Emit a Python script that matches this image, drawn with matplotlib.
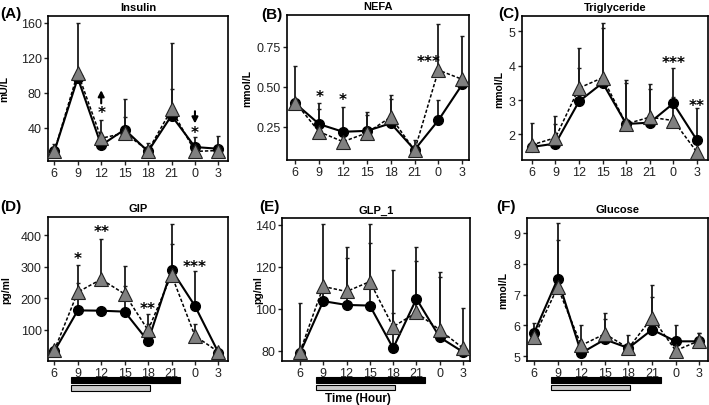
import numpy as np
import matplotlib
matplotlib.use("Agg")
import matplotlib.pyplot as plt
import matplotlib.patches as patches
import matplotlib.transforms as mtransforms

plt.rcParams['font.family'] = ['Liberation Sans', 'DejaVu Sans']

# x categories (clock hour)
hours = ["6", "9", "12", "15", "18", "21", "0", "3"]

# solid line / black circles and dashed line / grey triangles, with upper SD
insulin_circ = [13, 97, 20, 38, 13, 54, 18, 16]
insulin_circ_sd = [9, 63, 0, 35, 10, 83, 12, 15]
insulin_tri = [13, 103, 28, 34, 14, 61, 13, 14]
insulin_tri_sd = [0, 0, 21, 18, 0, 24, 0, 0]

nefa_circ = [0.395, 0.265, 0.217, 0.223, 0.27, 0.104, 0.29, 0.515]
nefa_circ_sd = [0.235, 0.135, 0.158, 0.117, 0.18, 0.06, 0.125, 0.305]
nefa_tri = [0.40, 0.217, 0.155, 0.21, 0.31, 0.10, 0.604, 0.546]
nefa_tri_sd = [0, 0.143, 0, 0.11, 0.11, 0, 0.292, 0]

tg_circ = [1.63, 1.73, 2.96, 3.5, 2.3, 2.34, 2.9, 1.83]
tg_circ_sd = [0.71, 0.80, 0.96, 1.59, 1.28, 0.97, 1.02, 0.95]
tg_tri = [1.69, 1.9, 3.35, 3.65, 2.3, 2.5, 2.4, 1.48]
tg_tri_sd = [0, 0.4, 1.17, 1.61, 1.2, 0.98, 0.7, 0]

gip_circ = [31, 161, 160, 157, 63, 290, 175, 27]
gip_circ_sd = [0, 86, 0, 80, 54, 147, 110, 0]
gip_tri = [34, 219, 260, 213, 98, 274, 80, 29]
gip_tri_sd = [0, 86, 128, 89, 50, 97, 37, 0]

glp_circ = [78.9, 103.7, 101.9, 101.6, 81.3, 104.8, 86.5, 79.5]
glp_circ_sd = [23.9, 36.8, 22.4, 29.7, 37.4, 24.5, 31.2, 20.9]
glp_tri = [79.5, 110.7, 108.3, 113, 91.5, 98.3, 90, 81.3]
glp_tri_sd = [0, 0, 21, 27.5, 6.5, 24.4, 25, 0]

glu_circ = [5.75, 7.51, 5.1, 5.54, 5.26, 5.86, 5.48, 5.48]
glu_circ_sd = [0.33, 1.81, 0.9, 0.87, 0.41, 1.06, 0.52, 0.27]
glu_tri = [5.62, 7.24, 5.35, 5.72, 5.26, 6.25, 5.18, 5.5]
glu_tri_sd = [0, 1.54, 0, 0.48, 0, 1.07, 0, 0.25]

# significance marks: (x index, y, text)
nefa_stars = [(1, 0.44, "*"), (2, 0.42, "*"), (5.6, 0.66, "***")]
tg_stars = [(6, 4.08, "***"), (7, 2.83, "**")]
gip_stars = [(1, 327, "*"), (2, 411, "**"), (4, 167, "**"), (6, 299, "***")]
insulin_stars = [(2, 58, "*"), (6, 35, "*")]

W, H = 709, 406
fig = plt.figure(figsize=(W / 100, H / 100), dpi=100)


def box(l, r, t, b):
    return [l / W, (H - b) / H, (r - l) / W, (b - t) / H]


def panel(rect, circ, csd, tri, tsd, title, letter, ylabel, ylim, yticks,
          xlim, letter_xy, ylab_x, ytl=None):
    ax = fig.add_axes(box(*rect))
    x = np.arange(len(hours))
    c = np.array(circ, float)
    t = np.array(tri, float)
    ax.errorbar(x, c, yerr=[np.zeros_like(c), np.array(csd, float)], fmt='none',
                ecolor='#1a1a1a', elinewidth=1.3, capsize=1.5, capthick=1.0, zorder=2)
    ax.errorbar(x, t, yerr=[np.zeros_like(t), np.array(tsd, float)], fmt='none',
                ecolor='#1a1a1a', elinewidth=1.3, capsize=1.5, capthick=1.0, zorder=2)
    ax.plot(x, t, linestyle=(0, (2.2, 1.3)), color='black', lw=1.1, zorder=3)
    ax.plot(x, c, '-', color='black', lw=1.5, zorder=3)
    ax.plot(x, c, 'o', color='black', ms=7, zorder=4)
    ax.plot(x, t, '^', mfc='#808080', mec='#222222', mew=0.8, ms=10, zorder=5)
    ax.set_xlim(*xlim)
    ax.set_ylim(*ylim)
    ax.set_xticks(x)
    ax.set_xticklabels(hours)
    ax.set_yticks(yticks)
    if ytl is not None:
        ax.set_yticklabels(ytl)
    ax.tick_params(axis='both', labelsize=9, length=3, width=1, pad=1.5,
                   colors='#222222')
    for s in ax.spines.values():
        s.set_linewidth(1.2)
    ax.set_title(title, fontsize=8, fontweight='bold', pad=4)
    ax.set_ylabel(ylabel, fontsize=7.5, fontweight='bold')
    ax.yaxis.set_label_coords((ylab_x - rect[0]) / (rect[1] - rect[0]), 0.5)
    fig.text(letter_xy[0] / W, 1 - letter_xy[1] / H, letter, fontsize=11,
             fontweight='bold', ha='left', va='center')
    return ax


def stars(ax, marks):
    for sx, sy, s in marks:
        ax.text(sx, sy, s, ha='center', va='center', fontsize=11, fontweight='bold',
                family='DejaVu Sans', zorder=6)


def day_bars(ax):
    tr = mtransforms.blended_transform_factory(ax.transData, ax.transAxes)
    ax.add_patch(patches.Rectangle((0.7, -0.155), 4.67, 0.042, transform=tr,
                                   facecolor='black', edgecolor='black', lw=0.8,
                                   clip_on=False))
    ax.add_patch(patches.Rectangle((0.7, -0.205), 3.37, 0.035, transform=tr,
                                   facecolor='#cccccc', edgecolor='black', lw=0.8,
                                   clip_on=False))


def arrow(ax, x, y0, y1):
    ax.annotate("", xy=(x, y1), xytext=(x, y0),
                arrowprops=dict(arrowstyle='-|>,head_length=0.35,head_width=0.18',
                                color='black', lw=1.5, shrinkA=0, shrinkB=0))


# (A) Insulin
axA = panel((48, 228, 17, 162), insulin_circ, insulin_circ_sd, insulin_tri, insulin_tri_sd,
            "Insulin", "(A)", "mU/L", (2, 168), [40, 80, 120, 160], (-0.27, 7.41),
            (0, 14), 9)
stars(axA, insulin_stars)
arrow(axA, 2, 68, 83)
arrow(axA, 6, 59, 45)

# (B) NEFA
axB = panel((287, 469, 16, 161), nefa_circ, nefa_circ_sd, nefa_tri, nefa_tri_sd,
            "NEFA", "(B)", "mmol/L", (0.04, 0.95), [0.25, 0.50, 0.75], (-0.35, 7.28),
            (261, 15), 252, ytl=["0.25", "0.50", "0.75"])
stars(axB, nefa_stars)

# (C) Triglyceride
axC = panel((522, 708, 17, 161), tg_circ, tg_circ_sd, tg_tri, tg_tri_sd,
            "Triglyceride", "(C)", "mmol/L", (1.25, 5.45), [2, 3, 4, 5], (-0.42, 7.47),
            (498, 14), 504)
stars(axC, tg_stars)

# (D) GIP
axD = panel((48, 228, 218, 362), gip_circ, gip_circ_sd, gip_tri, gip_tri_sd,
            "GIP", "(D)", "pg/ml", (0, 458), [100, 200, 300, 400], (-0.27, 7.41),
            (0, 207), 11)
stars(axD, gip_stars)
day_bars(axD)

# (E) GLP_1
axE = panel((282, 470, 219, 362), glp_circ, glp_circ_sd, glp_tri, glp_tri_sd,
            "GLP_1", "(E)", "pg/ml", (75.2, 143.3), [80, 100, 120, 140], (-0.77, 7.3),
            (259, 207), 263)
day_bars(axE)
fig.text(358 / W, 1 - 399 / H, "Time (Hour)", fontsize=8.5, fontweight='bold',
         ha='center', va='center')

# (F) Glucose
axF = panel((527, 708, 219, 362), glu_circ, glu_circ_sd, glu_tri, glu_tri_sd,
            "Glucose", "(F)", "mmol/L", (4.84, 9.49), [5, 6, 7, 8, 9], (-0.3, 7.37),
            (496, 207), 508)
day_bars(axF)

fig.savefig("out.png", dpi=100)
